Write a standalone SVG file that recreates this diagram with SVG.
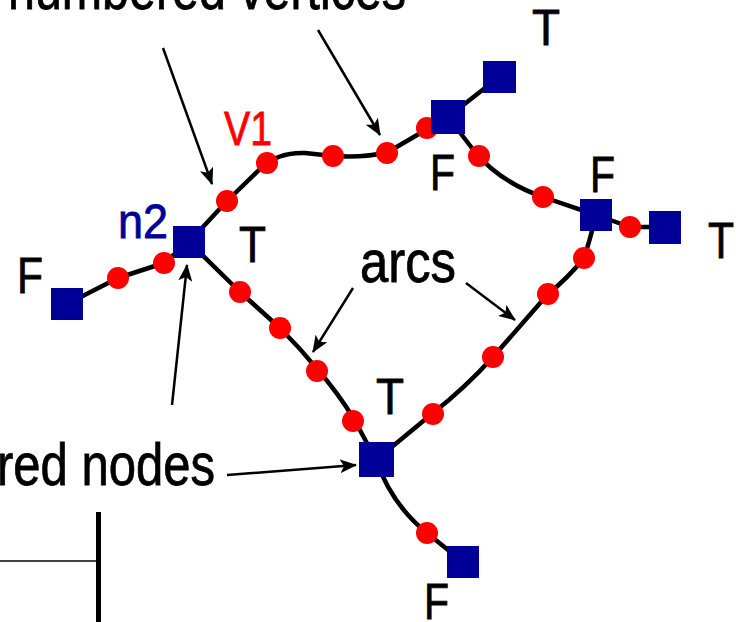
<svg xmlns="http://www.w3.org/2000/svg" width="736" height="622" viewBox="0 0 736 622">
<style>
.arc{fill:none;stroke:#000;stroke-width:4.5;stroke-linecap:round;stroke-linejoin:round}
.ptr{fill:none;stroke:#000;stroke-width:2.5;marker-end:url(#ah)}
.v{fill:#ff0000}
.n{fill:#000099}
.lbl{font-family:"Liberation Sans",Arial,sans-serif;font-size:50px;fill:#000;stroke:#000;stroke-width:0.8}
.big{font-family:"Liberation Sans",Arial,sans-serif;font-size:59px;fill:#000;stroke:#000;stroke-width:0.8}
</style>
<defs>
<marker id="ah" markerUnits="userSpaceOnUse" markerWidth="18" markerHeight="14" refX="16" refY="7" orient="auto">
<path d="M0,0 L17,7 L0,14 L4,7 Z" fill="#000"/>
</marker>
</defs>
<rect width="736" height="622" fill="#fff"/>
<g id="connectors">
<path class="arc" d="M67,304 L118,278 L164,263 L189,242"/>
<path class="arc" d="M189,242 L227,201 L262,167 Q279,152 305,153 L333,156 Q365,158 388,152 L448,117"/>
<path class="arc" d="M448,117 L499,77"/>
<path class="arc" d="M448,117 L475,152 Q500,182 543,197 L596,215"/>
<path class="arc" d="M596,215 L630,227 L665,227"/>
<path class="arc" d="M596,215 Q590,240 584,258 Q568,278 548,294 L493,357 Q465,388 433,413 L376,460"/>
<path class="arc" d="M189,242 L240,292 L280,328 Q300,348 318,370 Q338,393 354,419 L376,460"/>
<path class="arc" d="M376,460 Q392,505 427,533 L463,562"/>
<path class="ptr" d="M163,48 L212,184"/>
<path class="ptr" d="M318,30 L380,135"/>
<path class="ptr" d="M172,405 L187,265"/>
<path class="ptr" d="M227,475 L356,465"/>
<path class="ptr" d="M353,288 L313,352"/>
<path class="ptr" d="M466,283 L515,320"/>
<line x1="0" y1="561" x2="98" y2="561" stroke="#000" stroke-width="1.5"/>
<line x1="98.5" y1="512" x2="98.5" y2="622" stroke="#000" stroke-width="5"/>
</g>
<g id="vertices">
<circle class="v" cx="118" cy="278" r="11"/>
<circle class="v" cx="164" cy="263" r="11"/>
<circle class="v" cx="227" cy="201" r="11"/>
<circle class="v" cx="267" cy="163" r="11"/>
<circle class="v" cx="333" cy="156" r="11"/>
<circle class="v" cx="387" cy="153" r="11"/>
<circle class="v" cx="427" cy="128" r="11"/>
<circle class="v" cx="479" cy="156" r="11"/>
<circle class="v" cx="543" cy="197" r="11"/>
<circle class="v" cx="630" cy="227" r="11"/>
<circle class="v" cx="584" cy="258" r="11"/>
<circle class="v" cx="548" cy="294" r="11"/>
<circle class="v" cx="493" cy="357" r="11"/>
<circle class="v" cx="433" cy="414" r="11"/>
<circle class="v" cx="240" cy="292" r="11"/>
<circle class="v" cx="280" cy="328" r="11"/>
<circle class="v" cx="317" cy="371" r="11"/>
<circle class="v" cx="353" cy="421" r="11"/>
<circle class="v" cx="427" cy="533" r="11"/>
</g>
<g id="node-n2"><rect class="n" x="173" y="226" width="32" height="32"/></g>
<g id="node-left"><rect class="n" x="51" y="288" width="32" height="32"/></g>
<g id="node-top"><rect class="n" x="431" y="100" width="34" height="34"/></g>
<g id="node-topright"><rect class="n" x="483" y="61" width="33" height="32"/></g>
<g id="node-right"><rect class="n" x="580" y="199" width="32" height="32"/></g>
<g id="node-farright"><rect class="n" x="649" y="211" width="32" height="33"/></g>
<g id="node-bottom"><rect class="n" x="359" y="442" width="35" height="35"/></g>
<g id="node-bottomright"><rect class="n" x="447" y="546" width="32" height="32"/></g>
<g id="labels">
<text class="big" x="8" y="9" textLength="398" lengthAdjust="spacingAndGlyphs">numbered vertices</text>
<text class="big" x="360" y="282" textLength="96" lengthAdjust="spacingAndGlyphs">arcs</text>
<text class="big" x="-3" y="485" textLength="218" lengthAdjust="spacingAndGlyphs">red nodes</text>
<text class="lbl" x="532" y="45" textLength="28" lengthAdjust="spacingAndGlyphs">T</text>
<text class="lbl" x="239" y="262" textLength="27" lengthAdjust="spacingAndGlyphs">T</text>
<text class="lbl" x="17" y="293" textLength="26" lengthAdjust="spacingAndGlyphs">F</text>
<text class="lbl" x="430" y="190" textLength="25" lengthAdjust="spacingAndGlyphs">F</text>
<text class="lbl" x="590" y="192" textLength="25" lengthAdjust="spacingAndGlyphs">F</text>
<text class="lbl" x="708" y="258" textLength="26" lengthAdjust="spacingAndGlyphs">T</text>
<text class="lbl" x="376" y="414" textLength="28" lengthAdjust="spacingAndGlyphs">T</text>
<text class="lbl" x="424" y="619" textLength="25" lengthAdjust="spacingAndGlyphs">F</text>
<text class="lbl" x="118" y="238" textLength="50" lengthAdjust="spacingAndGlyphs" style="fill:#000099;stroke:#000099;font-size:48px">n2</text>
<text class="lbl" x="224" y="145" textLength="48" lengthAdjust="spacingAndGlyphs" style="fill:#ff0000;stroke:#ff0000;font-size:48px">V1</text>
</g>
</svg>
